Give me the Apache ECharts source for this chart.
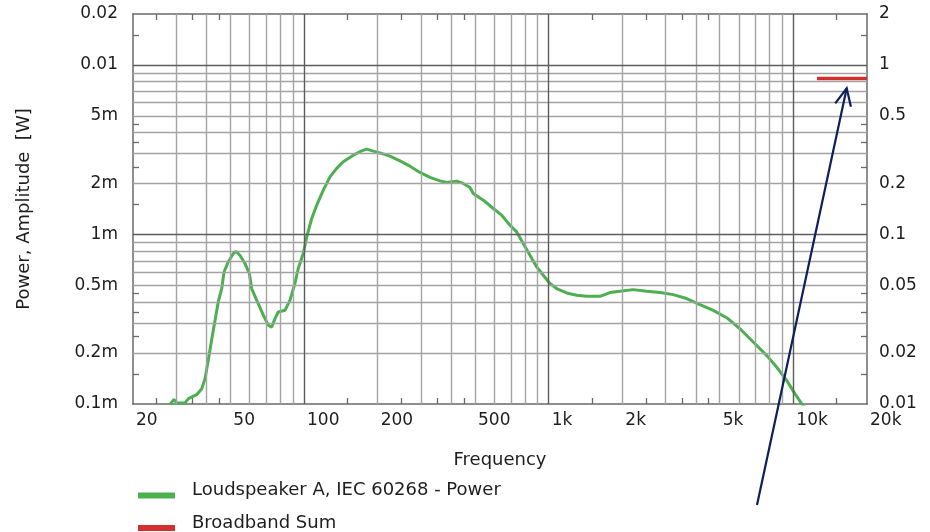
<!DOCTYPE html>
<html><head><meta charset="utf-8">
<script src="https://cdn.jsdelivr.net/npm/echarts@6/dist/echarts.min.js"></script>
<style>html,body{margin:0;padding:0;background:#fff}#c{width:930px;height:532px}</style>
</head><body><div id="c"></div>
<script>
// Loudspeaker A, IEC 60268 - Power (frequency in Hz, power in W)
const freqHz = [28.3, 29.4, 30.2, 32.6, 33.7, 36.4, 38.2, 39.4, 40.6, 41.9, 43.3, 44.6, 46.1, 47.1, 49.0, 51.4, 52.7, 54.7, 57.4, 59.8,
  61.1, 64.1, 68.2, 71.5, 73.8, 76.1, 78.5, 83.6, 87.6, 91.8, 94.7, 99.3, 102.6, 107.5, 112.7, 119.9, 127.7, 136.0, 144.7, 159.0,
  172.1, 180.3, 191.9, 207.6, 224.5, 246.7, 271, 297.8, 327.2, 359.5, 382.9, 420.6, 447.6, 476.8, 491.8, 540.4, 593.7, 642.6, 694.7, 739.8,
  787.2, 838.6, 893.2, 950.4, 1012, 1078, 1184, 1301, 1429, 1620, 1780, 1955, 2216, 2514, 2850, 3228, 3663, 4152, 4706, 5338,
  6050, 6855, 7776, 8543, 9388, 10150, 10808, 11200];
const powerW = [0.99e-4, 1.065e-4, 1.018e-4, 1.012e-4, 1.075e-4, 1.135e-4, 1.231e-4, 1.411e-4, 1.809e-4, 2.375e-4, 3.118e-4, 4.00e-4, 4.80e-4, 6.01e-4, 6.89e-4, 7.72e-4, 7.96e-4, 7.54e-4, 6.74e-4, 5.88e-4,
  4.80e-4, 4.09e-4, 3.34e-4, 2.91e-4, 2.845e-4, 3.19e-4, 3.49e-4, 3.57e-4, 4.09e-4, 5.14e-4, 6.30e-4, 7.72e-4, 9.68e-4, 12.43e-4, 14.89e-4, 18.27e-4, 21.89e-4, 24.54e-4, 26.85e-4, 29.4e-4,
  31.18e-4, 31.9e-4, 31.05e-4, 30.08e-4, 29.0e-4, 27.2e-4, 25.3e-4, 23.24e-4, 21.71e-4, 20.73e-4, 20.28e-4, 20.65e-4, 20.01e-4, 18.95e-4, 17.47e-4, 15.94e-4, 14.24e-4, 13.0e-4, 11.35e-4, 10.36e-4,
  8.85e-4, 7.54e-4, 6.44e-4, 5.75e-4, 5.14e-4, 4.80e-4, 4.52e-4, 4.38e-4, 4.32e-4, 4.32e-4, 4.545e-4, 4.62e-4, 4.73e-4, 4.62e-4, 4.545e-4, 4.42e-4, 4.19e-4, 3.86e-4, 3.57e-4, 3.23e-4,
  2.78e-4, 2.32e-4, 1.936e-4, 1.652e-4, 1.378e-4, 1.15e-4, 1.004e-4, 0.95e-4];
// Broadband Sum (right axis)
const sumFreqHz = [12500, 20000];
const sumValue = [0.834, 0.834];

const seriesNames = ['Loudspeaker A, IEC 60268 - Power', 'Broadband Sum'];
const xLabelValues = [20, 50, 100, 200, 500, 1000, 2000, 5000, 10000, 20000];
const xLabelTexts = ['20', '50', '100', '200', '500', '1k', '2k', '5k', '10k', '20k'];
const xMinorTicks = [25, 35, 45, 150, 250, 350, 450, 1500, 2500, 3500, 4500, 15000];
const xGridMinor = [30, 40, 50, 60, 70, 80, 90, 200, 300, 400, 500, 600, 700, 800, 900, 2000, 3000, 4000, 5000, 6000, 7000, 8000, 9000];
const xGridMajor = [100, 1000, 10000];
const yLeftValues = [1e-4, 2e-4, 5e-4, 1e-3, 2e-3, 5e-3, 0.01, 0.02];
const yLeftTexts = ['0.1m', '0.2m', '0.5m', '1m', '2m', '5m', '0.01', '0.02'];
const yRightValues = [0.01, 0.02, 0.05, 0.1, 0.2, 0.5, 1, 2];
const yRightTexts = ['0.01', '0.02', '0.05', '0.1', '0.2', '0.5', '1', '2'];
const yLeftMinorTicks = [1.5e-4, 2.5e-4, 3.5e-4, 4.5e-4, 1.5e-3, 2.5e-3, 3.5e-3, 4.5e-3, 1.5e-2];
const yRightMinorTicks = [0.015, 0.025, 0.035, 0.045, 0.15, 0.25, 0.35, 0.45, 1.5];
const yGridMinor = [2e-4, 3e-4, 4e-4, 5e-4, 6e-4, 7e-4, 8e-4, 9e-4, 2e-3, 3e-3, 4e-3, 5e-3, 6e-3, 7e-3, 8e-3, 9e-3];
const yGridMajor = [1e-3, 1e-2];

const FONT = 'DejaVu Sans';
const TXT = '#1e1e1e';
const MINOR = '#a3a3a3';
const MAJOR = '#5c5c5c';
const BORDER = '#6a6a6a';

function pick(values, texts) {
  return function (v) {
    let best = 0, bd = Infinity;
    values.forEach((t, i) => { const d = Math.abs(Math.log(v) - Math.log(t)); if (d < bd) { bd = d; best = i; } });
    return texts[best];
  };
}

const chart = echarts.init(document.getElementById('c'), null, { renderer: 'canvas' });

const gridLines = []
  .concat(xGridMinor.map(v => ({ xAxis: v, lineStyle: { color: MINOR, width: 1.4 } })))
  .concat(yGridMinor.map(v => ({ yAxis: v, lineStyle: { color: MINOR, width: 1.4 } })))
  .concat(xGridMajor.map(v => ({ xAxis: v, lineStyle: { color: MAJOR, width: 1.4 } })))
  .concat(yGridMajor.map(v => ({ yAxis: v, lineStyle: { color: MAJOR, width: 1.4 } })));

const axisLineStyle = { show: true, lineStyle: { color: BORDER, width: 1.5 } };
// legend swatch sits slightly below the text centre
const legendIcon = 'path://M0,0h0.01v0.01h-0.01z M0,10h37v6h-37z';

chart.setOption({
  animation: false,
  backgroundColor: '#ffffff',
  grid: { left: 133, right: 63, top: 14, bottom: 128, containLabel: false },
  legend: {
    orient: 'vertical', left: 138, top: 481.5, padding: 0,
    itemWidth: 37, itemHeight: 16, itemGap: 14.5, icon: legendIcon,
    data: seriesNames,
    textStyle: { fontFamily: FONT, fontSize: 18, color: TXT, padding: [0, 0, 0, 12] }
  },
  xAxis: [
    {
      type: 'log', logBase: 10, min: 20, max: 20000, position: 'bottom',
      name: 'Frequency', nameLocation: 'middle', nameGap: 47,
      nameTextStyle: { fontFamily: FONT, fontSize: 18, color: TXT },
      axisLine: axisLineStyle,
      axisTick: { show: true, inside: true, length: 6, customValues: xMinorTicks, lineStyle: { color: BORDER, width: 1.3 } },
      axisLabel: { customValues: xLabelValues, formatter: pick(xLabelValues, xLabelTexts), align: 'left', margin: 8,
        padding: [0, 0, 0, 3], fontFamily: FONT, fontSize: 17, color: TXT },
      splitLine: { show: false }, minorTick: { show: false }
    },
    {
      type: 'log', logBase: 10, min: 20, max: 20000, position: 'top',
      axisLine: axisLineStyle,
      axisTick: { show: true, inside: true, length: 6, customValues: xMinorTicks, lineStyle: { color: BORDER, width: 1.3 } },
      axisLabel: { show: false }, splitLine: { show: false }
    }
  ],
  yAxis: [
    {
      type: 'log', logBase: 10, min: 1e-4, max: 0.02, position: 'left',
      name: 'Power, Amplitude  [W]', nameLocation: 'middle', nameGap: 100, nameRotate: 90,
      nameTextStyle: { fontFamily: FONT, fontSize: 18, color: TXT },
      axisLine: axisLineStyle,
      axisTick: { show: true, inside: true, length: 6, customValues: yLeftMinorTicks, lineStyle: { color: BORDER, width: 1.3 } },
      axisLabel: { customValues: yLeftValues, formatter: pick(yLeftValues, yLeftTexts), margin: 15,
        fontFamily: FONT, fontSize: 17, color: TXT },
      splitLine: { show: false }
    },
    {
      type: 'log', logBase: 10, min: 0.01, max: 2, position: 'right',
      axisLine: axisLineStyle,
      axisTick: { show: true, inside: true, length: 6, customValues: yRightMinorTicks, lineStyle: { color: BORDER, width: 1.3 } },
      axisLabel: { customValues: yRightValues, formatter: pick(yRightValues, yRightTexts), margin: 12,
        fontFamily: FONT, fontSize: 17, color: TXT },
      splitLine: { show: false }
    }
  ],
  series: [
    {
      name: 'gridlines', type: 'line', xAxisIndex: 0, yAxisIndex: 0, data: [], silent: true, z: 1,
      markLine: { silent: true, precision: 12, symbol: ['none', 'none'], label: { show: false }, animation: false,
        lineStyle: { type: 'solid' }, emphasis: { disabled: true }, data: gridLines }
    },
    {
      name: seriesNames[0], type: 'line', xAxisIndex: 0, yAxisIndex: 0, z: 3,
      data: freqHz.map((f, i) => [f, powerW[i]]),
      showSymbol: false, symbol: 'none', clip: true,
      lineStyle: { color: '#4caf50', width: 3 }, itemStyle: { color: '#4caf50' }
    },
    {
      name: seriesNames[1], type: 'line', xAxisIndex: 0, yAxisIndex: 1, z: 3,
      data: sumFreqHz.map((f, i) => [f, sumValue[i]]),
      showSymbol: false, symbol: 'none', clip: true,
      lineStyle: { color: '#d32f2f', width: 3.5 }, itemStyle: { color: '#d32f2f' }
    }
  ],
  graphic: [
    { type: 'polyline', z: 100, shape: { points: [[757, 505], [846.7, 88.3]] }, style: { stroke: '#0d1f5c', lineWidth: 2.2, fill: null } },
    { type: 'polyline', z: 100, shape: { points: [[835.2, 103.4], [846.7, 88.3], [850.9, 106.8]] }, style: { stroke: '#0d1f5c', lineWidth: 2.2, fill: null } }
  ]
});
</script></body></html>
